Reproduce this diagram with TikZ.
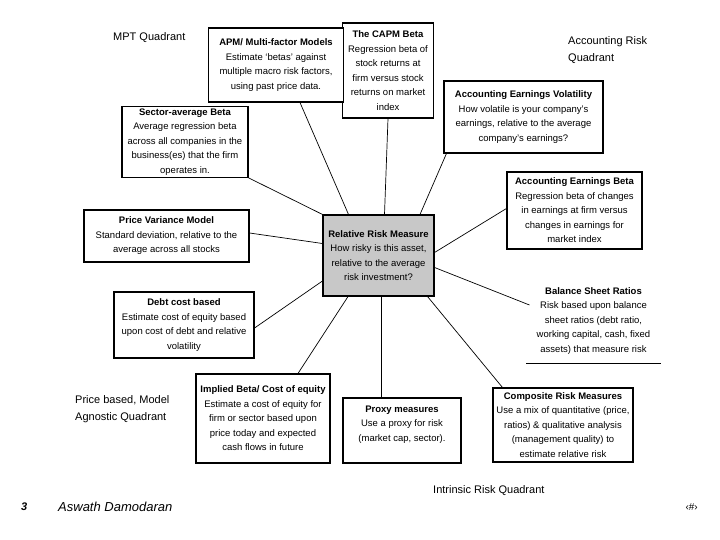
\documentclass[tikz,border=0pt]{standalone}
\usepackage{fontspec}
\setmainfont{Liberation Sans}
\usepackage{tikz}
\usetikzlibrary{positioning}
\definecolor{rrmgray}{RGB}{200,200,200}

\begin{document}
\begin{tikzpicture}[x=1pt, y=-1pt,
    box/.style={draw, line width=1.1pt, fill=white, align=center, inner sep=2pt,
      font=\fontsize{9.5}{14.5}\selectfont},
    quad/.style={anchor=west, align=left, inner sep=0pt, font=\fontsize{11}{17}\selectfont},
    link/.style={line width=0.7pt}]
  \useasboundingbox (0,0) rectangle (720,540);

  % quadrant labels
  \node[quad] (mptq) at (113,38) {MPT Quadrant};
  \node[quad] (accq) at (568,50) {Accounting Risk\\Quadrant};
  \node[quad] (priq) at (75,409) {Price based, Model\\Agnostic Quadrant};
  \node[quad] (intq) at (433,491) {Intrinsic Risk Quadrant};

  % centre
  \node[box, fill=rrmgray, minimum width=111pt, minimum height=81pt] (rrm) at (378.5,255.5)
    {\textbf{Relative Risk Measure}\\How risky is this asset,\\relative to the average\\risk investment?};

  % MPT side
  \node[box, minimum width=91pt, minimum height=95pt] (capm) at (388,70.5)
    {\textbf{The CAPM Beta}\\Regression beta of\\stock returns at\\firm versus stock\\returns on market\\index};
  \node[box, minimum width=135pt, minimum height=74pt] (apm) at (276,65)
    {\textbf{APM/ Multi-factor Models}\\Estimate `betas' against\\multiple macro risk factors,\\using past price data.};
  \node[box, minimum width=126pt, minimum height=66pt] (sab) at (185,142)
    {\textbf{Sector-average Beta}\\Average regression beta\\across all companies in the\\business(es) that the firm\\operates in.};
  \node[box, minimum width=165pt, minimum height=52pt] (pvm) at (166.5,236)
    {\textbf{Price Variance Model}\\Standard deviation, relative to the\\average across all stocks};

  % accounting side
  \node[box, minimum width=159pt, minimum height=72pt] (aev) at (523.5,117)
    {\textbf{Accounting Earnings Volatility}\\How volatile is your company's\\earnings, relative to the average\\company's earnings?};
  \node[box, minimum width=135pt, minimum height=77pt] (aeb) at (574.5,210.5)
    {\textbf{Accounting Earnings Beta}\\Regression beta of changes\\in earnings at firm versus\\changes in earnings for\\market index};
  \node[box, draw=none, fill=none, minimum width=133pt, minimum height=84pt] (bsr) at (593.5,321)
    {\textbf{Balance Sheet Ratios}\\Risk based upon balance\\sheet ratios (debt ratio,\\working capital, cash, fixed\\assets) that measure risk};
  \draw[line width=1.1pt] (bsr.south west) -- (bsr.south east);

  % price based side
  \node[box, minimum width=140pt, minimum height=66pt] (dcb) at (184,325)
    {\textbf{Debt cost based}\\Estimate cost of equity based\\upon cost of debt and relative\\volatility};
  \node[box, minimum width=134pt, minimum height=89pt] (ibc) at (263,418.5)
    {\textbf{Implied Beta/ Cost of equity}\\Estimate a cost of equity for\\firm or sector based upon\\price today and expected\\cash flows in future};

  % intrinsic side
  \node[box, minimum width=118pt, minimum height=65pt] (prx) at (402,430.5)
    {\textbf{Proxy measures}\\Use a proxy for risk\\(market cap, sector).\\~};
  \node[box, minimum width=140pt, minimum height=74pt] (crm) at (563,425)
    {\textbf{Composite Risk Measures}\\Use a mix of quantitative (price,\\ratios) \& qualitative analysis\\(management quality) to\\estimate relative risk};

  % spokes
  \draw[link] ([xshift=24pt]apm.south) -- ([xshift=-30pt]rrm.north);
  \draw[link] (capm.south) -- ([xshift=6pt]rrm.north);
  \draw[link] ([xshift=3pt]aev.south west) -- ([xshift=41.5pt]rrm.north);
  \draw[link] (sab.south east) -- (rrm.north west);
  \draw[link] ([yshift=3pt]pvm.east) -- ([yshift=12pt]rrm.west);
  \draw[link] ([yshift=2pt]aeb.west) -- ([yshift=3pt]rrm.east);
  \draw[link] ([yshift=-12pt]rrm.east) -- ([xshift=3pt,yshift=16pt]bsr.west);
  \draw[link] ([yshift=-3pt]dcb.east) -- ([yshift=-25.5pt]rrm.west);
  \draw[link] ([xshift=35pt]ibc.north) -- ([xshift=-30.5pt]rrm.south);
  \draw[link] ([xshift=2.5pt]rrm.south) -- ([xshift=-21pt]prx.north);
  \draw[link] ([xshift=-7pt]rrm.south east) -- ([xshift=10pt]crm.north west);

  % footer
  \node[anchor=west, inner sep=0pt, font=\fontsize{11}{13}\selectfont\bfseries\itshape] (pgno) at (21,507) {3};
  \node[anchor=west, inner sep=0pt, font=\fontsize{13}{15}\selectfont\itshape] (auth) at (58,507) {Aswath Damodaran};
  \node[anchor=east, inner sep=0pt, font=\fontsize{10}{12}\selectfont] (slno) at (698,507) {‹\#›};
\end{tikzpicture}
\end{document}
